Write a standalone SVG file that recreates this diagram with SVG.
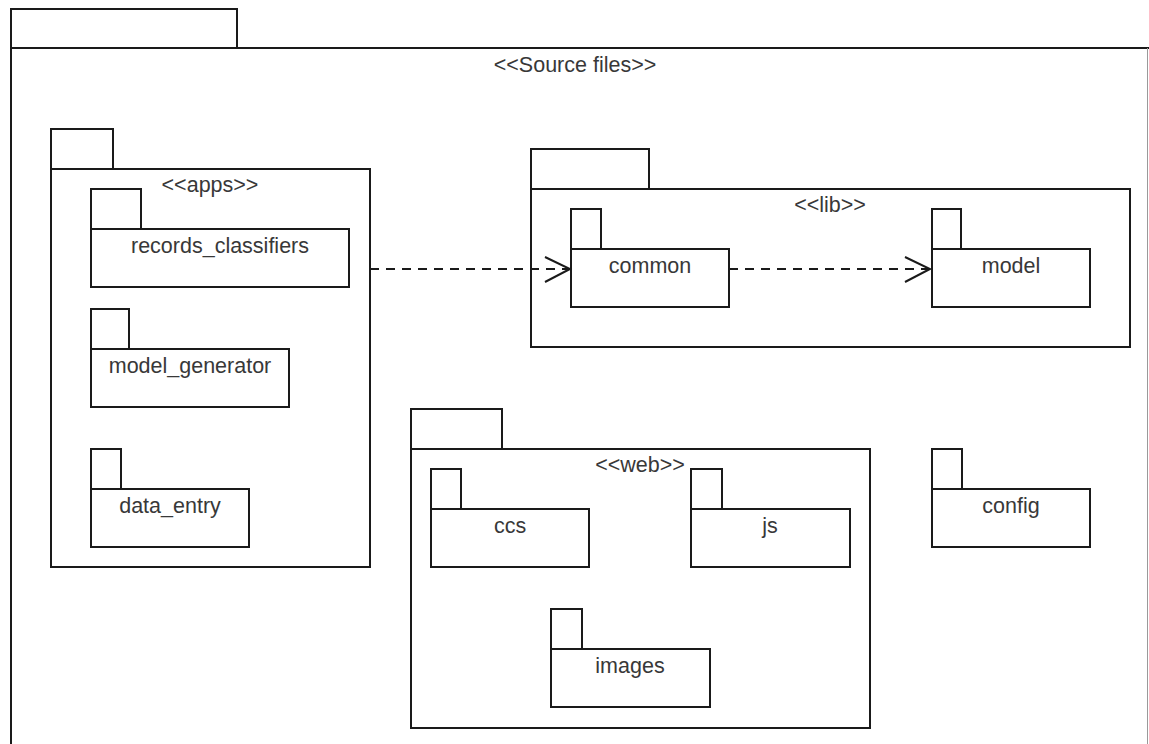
<svg xmlns="http://www.w3.org/2000/svg" width="1149" height="744" viewBox="0 0 1149 744">
  <style>
    .pkg { fill: #ffffff; stroke: #1a1a1a; stroke-width: 2; }
    .lbl { font-family: "Liberation Sans", Arial, sans-serif; font-size: 21.5px; fill: #383838; text-anchor: middle; }
    .dep { fill: none; stroke: #1a1a1a; stroke-width: 2; stroke-dasharray: 9 7; }
    .head { fill: none; stroke: #1a1a1a; stroke-width: 2; }
  </style>
  <rect width="1149" height="744" fill="#ffffff"/>

  <!-- Outer package: Source files -->
  <g id="source-files">
    <rect class="pkg" x="11" y="9" width="226" height="39"/>
    <path d="M11,48 H1149 M11,48 V744" fill="none" stroke="#1a1a1a" stroke-width="2"/>
    <path d="M1147.5,48 V744" fill="none" stroke="#9a9a9a" stroke-width="1"/>
    <text class="lbl" x="575" y="72">&lt;&lt;Source files&gt;&gt;</text>
  </g>

  <!-- apps package -->
  <g id="apps">
    <rect class="pkg" x="51" y="129" width="62" height="40"/>
    <rect class="pkg" x="51" y="169" width="319" height="398"/>
    <text class="lbl" x="210" y="192">&lt;&lt;apps&gt;&gt;</text>
  </g>
  <g id="records_classifiers">
    <rect class="pkg" x="91" y="189" width="50" height="40"/>
    <rect class="pkg" x="91" y="229" width="258" height="58"/>
    <text class="lbl" x="220" y="253">records_classifiers</text>
  </g>
  <g id="model_generator">
    <rect class="pkg" x="91" y="309" width="38" height="40"/>
    <rect class="pkg" x="91" y="349" width="198" height="58"/>
    <text class="lbl" x="190" y="373">model_generator</text>
  </g>
  <g id="data_entry">
    <rect class="pkg" x="91" y="449" width="30" height="40"/>
    <rect class="pkg" x="91" y="489" width="158" height="58"/>
    <text class="lbl" x="170" y="513">data_entry</text>
  </g>

  <!-- lib package -->
  <g id="lib">
    <rect class="pkg" x="531" y="149" width="118" height="40"/>
    <rect class="pkg" x="531" y="189" width="599" height="158"/>
    <text class="lbl" x="830" y="212">&lt;&lt;lib&gt;&gt;</text>
  </g>
  <g id="common">
    <rect class="pkg" x="571" y="209" width="30" height="40"/>
    <rect class="pkg" x="571" y="249" width="158" height="58"/>
    <text class="lbl" x="650" y="273">common</text>
  </g>
  <g id="model">
    <rect class="pkg" x="932" y="209" width="29" height="40"/>
    <rect class="pkg" x="932" y="249" width="158" height="58"/>
    <text class="lbl" x="1011" y="273">model</text>
  </g>

  <!-- web package -->
  <g id="web">
    <rect class="pkg" x="411" y="409" width="91" height="40"/>
    <rect class="pkg" x="411" y="449" width="459" height="279"/>
    <text class="lbl" x="640" y="472">&lt;&lt;web&gt;&gt;</text>
  </g>
  <g id="ccs">
    <rect class="pkg" x="431" y="469" width="30" height="40"/>
    <rect class="pkg" x="431" y="509" width="158" height="58"/>
    <text class="lbl" x="510" y="533">ccs</text>
  </g>
  <g id="js">
    <rect class="pkg" x="691" y="469" width="31" height="40"/>
    <rect class="pkg" x="691" y="509" width="159" height="58"/>
    <text class="lbl" x="770" y="533">js</text>
  </g>
  <g id="images">
    <rect class="pkg" x="551" y="609" width="31" height="40"/>
    <rect class="pkg" x="551" y="649" width="159" height="58"/>
    <text class="lbl" x="630" y="673">images</text>
  </g>

  <!-- config package -->
  <g id="config">
    <rect class="pkg" x="932" y="449" width="30" height="40"/>
    <rect class="pkg" x="932" y="489" width="158" height="58"/>
    <text class="lbl" x="1011" y="513">config</text>
  </g>

  <!-- dependencies -->
  <g id="connectors">
    <path class="dep" d="M370,269 H569"/>
    <path class="head" d="M545,257 L570,269 L545,282"/>
    <path class="dep" d="M729,269 H929"/>
    <path class="head" d="M905,257 L930,269 L905,282"/>
  </g>
</svg>
